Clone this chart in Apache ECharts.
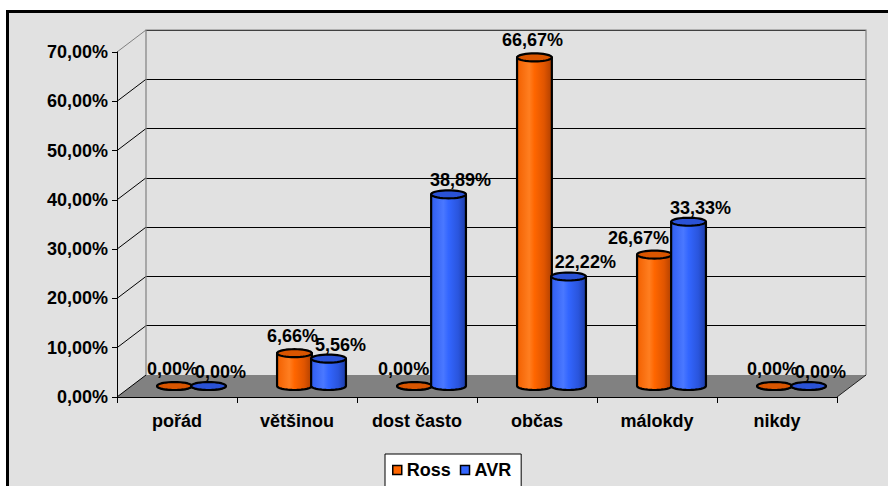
<!DOCTYPE html>
<html>
<head>
<meta charset="utf-8">
<script src="https://cdn.jsdelivr.net/npm/echarts@6/dist/echarts.min.js"></script>
<style>
  html, body { margin: 0; padding: 0; background: #fff; }
  #frame { position: absolute; left: 6px; top: 10px; width: 900px; height: 500px;
           border: 3px solid #000; background: #e1e1e1; }
  #chart { position: absolute; left: 0; top: 0; width: 888px; height: 486px; }
</style>
</head>
<body>
<div id="frame"></div>
<div id="chart"></div>
<script>
// Answer categories and the share of each answer per group (percent)
const categories = ['pořád', 'většinou', 'dost často', 'občas', 'málokdy', 'nikdy'];
const rossValues = [0, 6.66, 0, 66.67, 26.67, 0];
const avrValues  = [0, 5.56, 38.89, 22.22, 33.33, 0];
const yTicks = [0, 10, 20, 30, 40, 50, 60, 70];
const seriesNames = ['Ross', 'AVR'];

// Pseudo-3D look: depth vector of the plot box and cylinder geometry
const DEPTH = [29, -22];
const BAR_W = 0.29;      // cylinder width as a fraction of the category band
const BAR_OFF = 0.142;   // distance of each cylinder from the band centre
const CAP_RY = 4;        // vertical radius of the cylinder caps
const FONT = 'bold 18px "Liberation Sans", Arial, sans-serif';

const palette = {
  Ross: { base: '#FF6600', cap: '#D95500',
          stops: ['#F26000', '#FF7E20', '#FF6600', '#E05500', '#B04000'],
          labelDx: -2, labelDy: -17, side: -1 },
  AVR:  { base: '#3366FF', cap: '#2A52D6',
          stops: ['#2F5DF0', '#4A78FF', '#3366FF', '#2A55DD', '#1C3DA8'],
          labelDx: 12, labelDy: -14, side: 1 }
};
const valuesOf = { Ross: rossValues, AVR: avrValues };

const fmt = v => v.toFixed(2).replace('.', ',') + '%';
const measureCtx = document.createElement('canvas').getContext('2d');
measureCtx.font = FONT;
const textWidth = s => measureCtx.measureText(s).width;

function ellipsePts(cx, cy, rx, ry, a0, a1, n) {
  const pts = [];
  for (let i = 0; i <= n; i++) {
    const t = a0 + (a1 - a0) * i / n;
    pts.push([cx + rx * Math.cos(t), cy + ry * Math.sin(t)]);
  }
  return pts;
}

// Screen geometry of one cylinder
function cylGeom(api, name, idx, val) {
  const p = palette[name];
  const band = api.size([1, 0])[0];
  const base = api.coord([idx, 0]);
  const top = api.coord([idx, val]);
  const cx = base[0] + DEPTH[0] / 2 + p.side * BAR_OFF * band;
  const rx = BAR_W * band / 2;
  return { cx: cx, rx: rx, yBase: base[1] + DEPTH[1] / 2, yTop: top[1] + DEPTH[1] / 2 };
}

// Floor, wall edges and the slanted tick connectors of the 3D box
function renderBox(params, api) {
  const cs = params.coordSys;
  const x0 = cs.x, x1 = cs.x + cs.width;
  const y0 = api.coord([0, 0])[1];
  const children = [];
  children.push({
    type: 'polygon',
    shape: { points: [[x0, y0], [x1, y0], [x1 + DEPTH[0], y0 + DEPTH[1]], [x0 + DEPTH[0], y0 + DEPTH[1]]] },
    style: { fill: '#818181', stroke: null }
  });
  children.push({
    type: 'line',
    shape: { x1: x1, y1: y0, x2: x1 + DEPTH[0], y2: y0 + DEPTH[1] },
    style: { stroke: '#222', lineWidth: 1 }
  });
  yTicks.forEach((t, i) => {
    const y = api.coord([0, t])[1];
    children.push({
      type: 'line',
      shape: { x1: x0, y1: y, x2: x0 + DEPTH[0], y2: y + DEPTH[1] },
      style: { stroke: i === yTicks.length - 1 ? '#808080' : '#000', lineWidth: 1 }
    });
  });
  const yTop = api.coord([0, yTicks[yTicks.length - 1]])[1] + DEPTH[1];
  const yBack = y0 + DEPTH[1];
  const bx0 = x0 + DEPTH[0], bx1 = x1 + DEPTH[0];
  children.push({ type: 'polyline',
    shape: { points: [[bx0, yBack], [bx0, yTop], [bx1, yTop], [bx1, yBack]] },
    style: { stroke: '#808080', lineWidth: 1.2, fill: null } });
  return { type: 'group', children: children };
}

// One cylinder per data item
function renderCylinder(name) {
  const p = palette[name];
  return function (params, api) {
    const g = cylGeom(api, name, api.value(0), api.value(1));
    const bodyPts = [[g.cx - g.rx, g.yTop], [g.cx - g.rx, g.yBase]]
      .concat(ellipsePts(g.cx, g.yBase, g.rx, CAP_RY, Math.PI, 0, 24))
      .concat([[g.cx + g.rx, g.yTop]]);
    const grad = new echarts.graphic.LinearGradient(0, 0, 1, 0, [
      { offset: 0, color: p.stops[0] },
      { offset: 0.35, color: p.stops[1] },
      { offset: 0.5, color: p.stops[2] },
      { offset: 0.78, color: p.stops[3] },
      { offset: 1, color: p.stops[4] }
    ]);
    return {
      type: 'group',
      children: [
        { type: 'polygon', shape: { points: bodyPts },
          style: { fill: grad, stroke: '#000', lineWidth: 2.2, lineJoin: 'round' } },
        { type: 'polygon', shape: { points: ellipsePts(g.cx, g.yTop, g.rx, CAP_RY, 0, Math.PI * 2, 36) },
          style: { fill: p.cap, stroke: '#000', lineWidth: 2.2, lineJoin: 'round' } }
      ]
    };
  };
}

// Value labels above the cylinders, kept clear of the neighbouring cylinder
function renderLabel(name) {
  const p = palette[name];
  const other = name === 'Ross' ? 'AVR' : 'Ross';
  return function (params, api) {
    const idx = api.value(0), val = api.value(1);
    const g = cylGeom(api, name, idx, val);
    const o = cylGeom(api, other, idx, valuesOf[other][idx]);
    const text = fmt(val);
    const w = textWidth(text);
    let x = g.cx + p.labelDx;
    const y = g.yTop + p.labelDy;
    const bottom = y + 9;
    if (o.yTop - CAP_RY < bottom) {
      if (p.side < 0 && x + w / 2 > o.cx - o.rx) x = o.cx - o.rx - w / 2 - 2;
      if (p.side > 0 && x - w / 2 < o.cx + o.rx) x = o.cx + o.rx + w / 2 + 3;
    }
    return { type: 'text',
      style: { text: text, x: x, y: y, align: 'center', verticalAlign: 'middle',
               font: FONT, fill: '#000' } };
  };
}

const chart = echarts.init(document.getElementById('chart'), null, { renderer: 'svg' });

const cylinderSeries = [];
const labelSeries = [];
seriesNames.forEach((name, k) => {
  const data = valuesOf[name].map((v, i) => [i, v]);
  cylinderSeries.push({ type: 'custom', name: name, xAxisIndex: 0, yAxisIndex: 0, z: 3 + k,
    itemStyle: { color: palette[name].base }, data: data, encode: { x: 0, y: 1 },
    renderItem: renderCylinder(name) });
  labelSeries.push({ type: 'custom', name: name, xAxisIndex: 0, yAxisIndex: 0, z: 8, silent: true,
    itemStyle: { color: palette[name].base }, data: data, encode: { x: 0, y: 1 },
    renderItem: renderLabel(name) });
});

chart.setOption({
  backgroundColor: 'transparent',
  animation: false,
  grid: [
    { left: 117, right: 51, top: 52, bottom: 89 },
    { left: 117 + DEPTH[0], right: 51 - DEPTH[0], top: 52 + DEPTH[1], bottom: 89 - DEPTH[1] }
  ],
  xAxis: [
    { type: 'category', gridIndex: 0, data: categories, z: 5,
      axisLine: { lineStyle: { color: '#000', width: 1 } },
      axisTick: { show: true, length: 6, lineStyle: { color: '#000' } },
      axisLabel: { margin: 15, color: '#000', fontSize: 18, fontWeight: 'bold',
                   fontFamily: '"Liberation Sans", Arial, sans-serif' },
      splitLine: { show: false } },
    { type: 'value', gridIndex: 1, min: 0, max: 1, show: false }
  ],
  yAxis: [
    { type: 'value', gridIndex: 0, min: 0, max: 70, interval: 10, z: 5,
      axisLine: { show: true, lineStyle: { color: '#000', width: 1 } },
      axisTick: { show: true, length: 5, lineStyle: { color: '#000' } },
      axisLabel: { margin: 9, color: '#000', fontSize: 18, fontWeight: 'bold',
                   fontFamily: '"Liberation Sans", Arial, sans-serif',
                   formatter: v => fmt(v) },
      splitLine: { show: false } },
    { type: 'value', gridIndex: 1, min: 0, max: 70, interval: 10,
      axisLine: { show: false }, axisTick: { show: false }, axisLabel: { show: false },
      splitLine: { show: true, lineStyle: { color: '#000', width: 1 } } }
  ],
  legend: {
    data: seriesNames,
    left: 385, top: 454,
    backgroundColor: '#fff', borderColor: '#000', borderWidth: 1,
    padding: [7, 10, 14, 7],
    itemGap: 9, itemWidth: 9, itemHeight: 9, icon: 'rect',
    itemStyle: { borderColor: '#000', borderWidth: 1.5 },
    textStyle: { color: '#000', fontSize: 18, fontWeight: 'bold',
                 fontFamily: '"Liberation Sans", Arial, sans-serif' }
  },
  series: [
    { type: 'custom', name: 'box', xAxisIndex: 0, yAxisIndex: 0, z: 1, silent: true,
      data: [[0, 0]], encode: { x: 0, y: 1 }, renderItem: renderBox }
  ].concat(cylinderSeries, labelSeries)
});
</script>
</body>
</html>
